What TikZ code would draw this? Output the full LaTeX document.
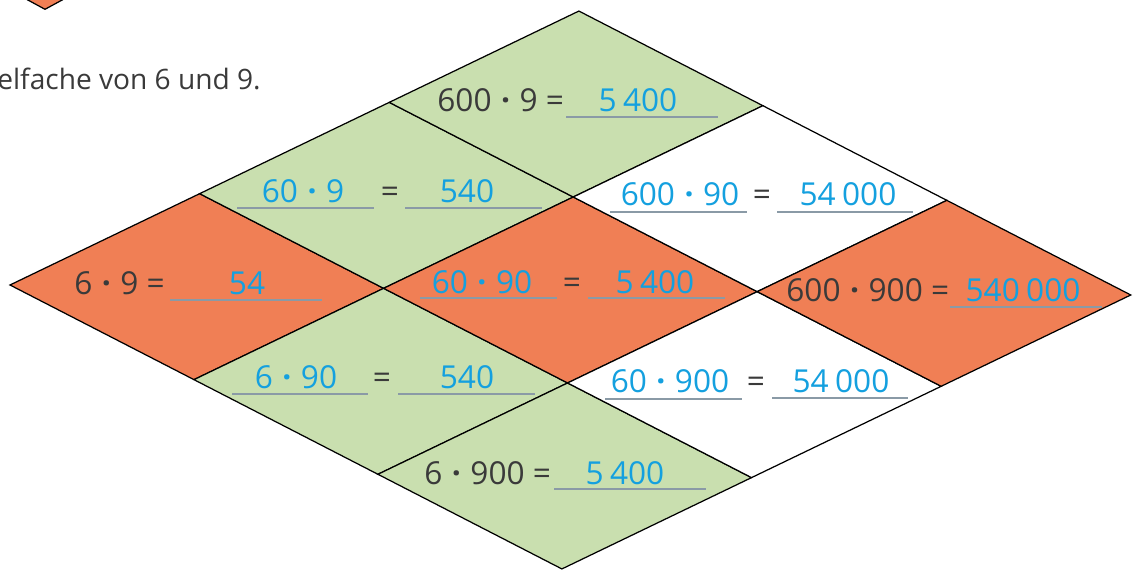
\documentclass[tikz,border=0pt]{standalone}
\usepackage{fontspec}
\setmainfont{Open Sans}
\definecolor{cellgreen}{HTML}{C9DFAF}
\definecolor{cellorange}{HTML}{F07F55}
\definecolor{inkgray}{HTML}{3A3A3A}
\definecolor{penblue}{HTML}{14A0DF}
\definecolor{linegray}{HTML}{8A9AA6}
\newcommand{\mdot}{\hspace{0.3em}{\bfseries ·}\hspace{0.3em}}
\newcommand{\gap}{\hspace{0.2em}}
\begin{document}
\begin{tikzpicture}[x=0.02cm,y=-0.02cm,
  cell/.style={draw=black,line width=0.7pt,line join=miter},
  given/.style={text=inkgray,anchor=base west,inner sep=0pt,font=\fontsize{18}{20}\selectfont},
  answer/.style={text=penblue,anchor=base,inner sep=0pt,font=\fontsize{18}{20}\selectfont},
  eqsign/.style={text=inkgray,anchor=base,inner sep=0pt,font=\fontsize{18}{20}\selectfont},
  blank/.style={draw=linegray,line width=0.8pt}]
\clip (0,0) rectangle (1139,570);
\filldraw[cell,fill=cellorange] (26,-1) -- (45,9.3) -- (64,-1);
\node[given,font=\fontsize{16}{18}\selectfont] (head) at (-3,90) {elfache von 6 und 9.};
\begin{scope}[shift={(10,285)},x={(3.7933cm,1.8267cm)},y={(3.68cm,-1.8933cm)}]
\foreach \i/\j/\c in {0/0/cellorange,1/0/cellgreen,2/0/cellgreen,0/1/cellgreen,1/1/cellorange,2/1/white,0/2/cellgreen,1/2/white,2/2/cellorange}
  \filldraw[cell,fill=\c] (\i,\j) -- ++(1,0) -- ++(0,1) -- ++(-1,0) -- cycle;
\end{scope}
\foreach \xa/\xb/\yy in {566/718/117,170/322/300,237/374/208,405/542/208,232/368/394,398/535/394,420/557/298,588/725/298,610/747/212,777/913/212,554/706/489,605/742/399,772/908/398,950/1102/307}
  \draw[blank] (\xa,\yy) -- (\xb,\yy);
\node[given] (g1) at (437,112) {600\mdot 9 =};
\node[answer] (a1) at (638,112) {5\gap400};
\node[given] (g2) at (74,295) {6\mdot 9 =};
\node[answer] (a2) at (247,295) {54};
\node[answer] (f3) at (303,203) {60\mdot 9};
\node[eqsign] (e3) at (390,203) {=};
\node[answer] (a3) at (467,203) {540};
\node[answer] (f4) at (296,389) {6\mdot 90};
\node[eqsign] (e4) at (382,389) {=};
\node[answer] (a4) at (467,389) {540};
\node[answer] (f5) at (482,294) {60\mdot 90};
\node[eqsign] (e5) at (572,294) {=};
\node[answer] (a5) at (655,294) {5\gap400};
\node[answer] (f6) at (680,206) {600\mdot 90};
\node[eqsign] (e6) at (762,206) {=};
\node[answer] (a6) at (848,206) {54\gap000};
\node[given] (g7) at (424,485) {6\mdot 900 =};
\node[answer] (a7) at (625,485) {5\gap400};
\node[answer] (f8) at (670,393) {60\mdot 900};
\node[eqsign] (e8) at (756,393) {=};
\node[answer] (a8) at (841,393) {54\gap000};
\node[given] (g9) at (786,302) {600\mdot 900 =};
\node[answer] (a9) at (1023,302) {540\gap000};
\end{tikzpicture}
\end{document}
